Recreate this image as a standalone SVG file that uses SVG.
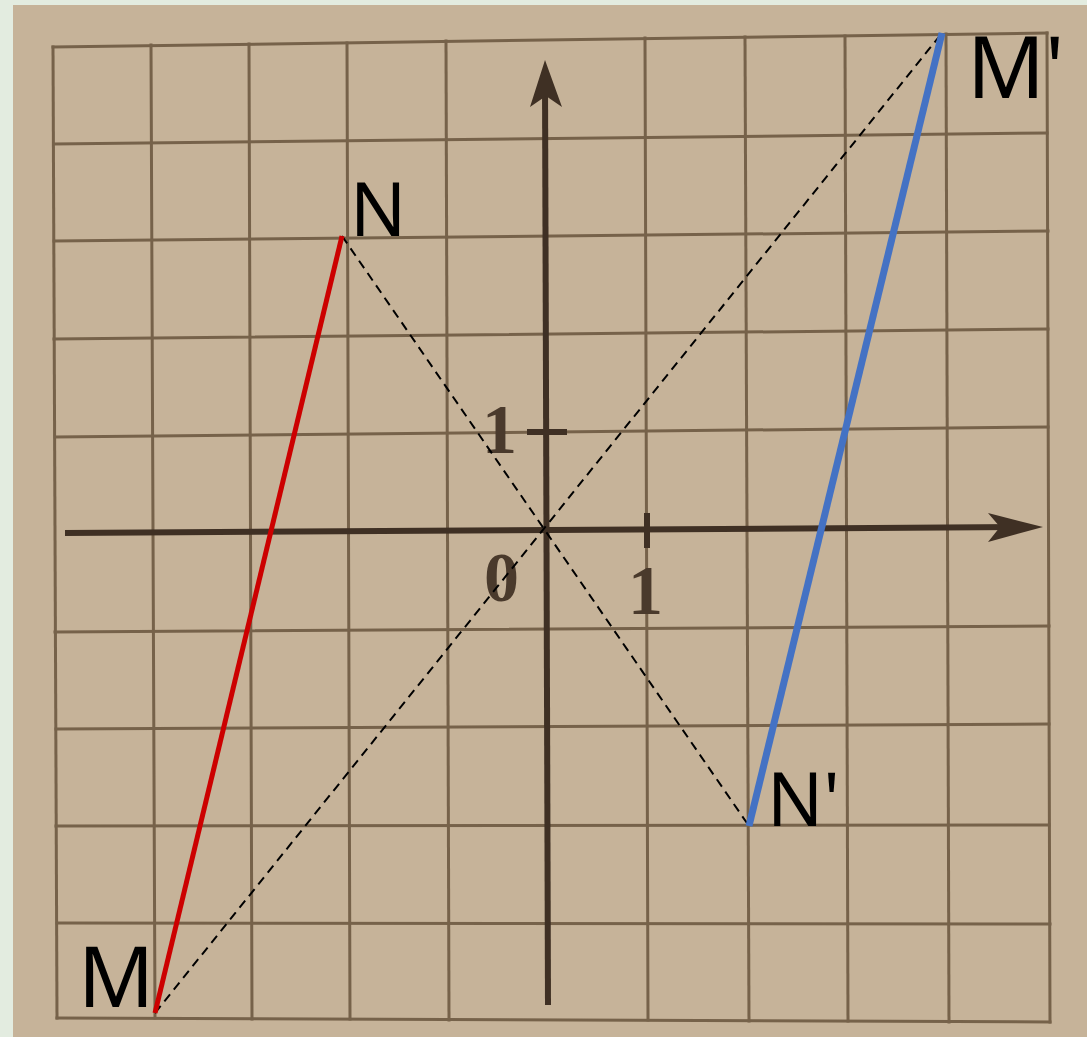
<svg xmlns="http://www.w3.org/2000/svg" width="1087" height="1037" viewBox="0 0 1087 1037">
<style>
.grid line{stroke:#76624a;stroke-width:3;stroke-linecap:square}
.axis{stroke:#3f3024;stroke-width:6;fill:none}
.head{fill:#3f3024}
.num{font-family:"Liberation Serif",serif;font-weight:bold;font-size:70px;fill:#4a3a2c}
.lbl{font-family:"Noto Sans","Open Sans",sans-serif;fill:#000}
.dash{stroke:#000;stroke-width:2;stroke-dasharray:9 6;fill:none}
</style>
<rect x="0" y="0" width="1087" height="1037" fill="#e3ece0"/>
<rect x="13" y="5" width="1074" height="1032" fill="#c6b399"/>
<g id="grid" class="grid">
<line x1="53" y1="47" x2="57" y2="1018"/>
<line x1="151" y1="45" x2="155" y2="1018"/>
<line x1="249" y1="44" x2="252" y2="1019"/>
<line x1="347" y1="43" x2="350" y2="1019"/>
<line x1="446" y1="41" x2="449" y2="1020"/>
<line x1="645" y1="38" x2="648" y2="1020"/>
<line x1="745" y1="37" x2="749" y2="1021"/>
<line x1="845" y1="36" x2="848" y2="1021"/>
<line x1="946" y1="34" x2="949" y2="1022"/>
<line x1="1047" y1="33" x2="1050" y2="1022"/>
<line x1="53" y1="47" x2="1047" y2="33"/>
<line x1="54" y1="144" x2="1047" y2="133"/>
<line x1="54" y1="241" x2="1048" y2="231"/>
<line x1="54" y1="339" x2="1048" y2="329"/>
<line x1="55" y1="437" x2="1048" y2="427"/>
<line x1="55" y1="632" x2="1049" y2="626"/>
<line x1="56" y1="729" x2="1049" y2="724"/>
<line x1="56" y1="826" x2="1049" y2="825"/>
<line x1="57" y1="923" x2="1050" y2="924"/>
<line x1="57" y1="1018" x2="1050" y2="1022"/>
</g>
<g id="axes">
<line class="axis" x1="65" y1="533" x2="1030" y2="527"/>
<polygon class="head" points="1043,527 988,513 1000,527 988,542"/>
<line class="axis" x1="548" y1="1005" x2="545" y2="80"/>
<polygon class="head" points="545,60 562,107 546,96 530,107"/>
<line class="axis" x1="527" y1="432" x2="567" y2="432" stroke-width="5"/>
<line class="axis" x1="647" y1="513" x2="647" y2="548" stroke-width="5"/>
<text class="num" x="482" y="453">1</text>
<text class="num" x="484" y="601">0</text>
<text class="num" x="628" y="614">1</text>
</g>
<g id="connectors">
<line class="dash" x1="155" y1="1013" x2="942" y2="33"/>
<line class="dash" x1="342" y1="236" x2="749" y2="826"/>
</g>
<g id="MN">
<line x1="155" y1="1013" x2="342" y2="236" stroke="#cc0000" stroke-width="5"/>
<text class="lbl" x="78" y="1007" font-size="84">M</text>
<text class="lbl" x="350" y="236" font-size="74">N</text>
</g>
<g id="MpNp">
<line x1="749" y1="826" x2="942" y2="33" stroke="#4472c4" stroke-width="7"/>
<text class="lbl" x="967" y="98" font-size="86">M'</text>
<text class="lbl" x="767" y="826" font-size="74">N'</text>
</g>
</svg>
